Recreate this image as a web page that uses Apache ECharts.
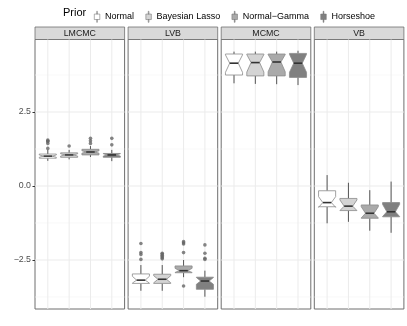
<!DOCTYPE html>
<html><head><meta charset="utf-8">
<script src="https://cdn.jsdelivr.net/npm/echarts@6/dist/echarts.min.js"></script>
<style>html,body{margin:0;padding:0;background:#fff}#c{width:407px;height:326px}</style>
</head><body><div id="c"></div>
<script>
// ---- data ----
const panels = ['LMCMC', 'LVB', 'MCMC', 'VB'];
const priors = ['Normal', 'Bayesian Lasso', 'Normal\u2212Gamma', 'Horseshoe'];
const priorPos = [1, 2, 3, 4];
// per prior: [lowerWhisker, Q1, notchLow, median, notchHigh, Q3, upperWhisker]
const statsLMCMC = [
  [0.85, 0.94, 0.97, 1.01, 1.05, 1.08, 1.22],
  [0.90, 0.97, 1.01, 1.05, 1.09, 1.12, 1.22],
  [0.98, 1.05, 1.11, 1.15, 1.19, 1.24, 1.35],
  [0.84, 0.97, 1.01, 1.05, 1.09, 1.10, 1.22]
];
const statsLVB = [
  [-3.54, -3.29, -3.28, -3.18, -3.05, -2.97, -2.67],
  [-3.54, -3.29, -3.27, -3.15, -3.03, -2.98, -2.67],
  [-3.08, -2.93, -2.92, -2.86, -2.78, -2.70, -2.50],
  [-3.74, -3.49, -3.32, -3.21, -3.09, -3.08, -2.86]
];
const statsMCMC = [
  [3.47, 3.75, 3.84, 4.15, 4.43, 4.46, 4.54],
  [3.45, 3.72, 3.85, 4.17, 4.44, 4.46, 4.54],
  [3.44, 3.72, 3.86, 4.19, 4.44, 4.46, 4.54],
  [3.41, 3.67, 3.84, 4.15, 4.45, 4.48, 4.57]
];
const statsVB = [
  [-1.26, -0.70, -0.72, -0.56, -0.36, -0.16, 0.37],
  [-1.21, -0.83, -0.83, -0.68, -0.47, -0.42, 0.11],
  [-1.51, -1.09, -1.08, -0.92, -0.70, -0.64, -0.14],
  [-1.58, -1.04, -1.03, -0.87, -0.62, -0.56, 0.15]
];
// outliers: [prior position, value]
const outLMCMC = [[1, 1.55], [1, 1.52], [1, 1.50], [1, 1.44], [1, 1.27], [2, 1.35], [3, 1.61], [3, 1.53], [3, 1.44], [4, 1.61], [4, 1.39]];
const outLVB = [[1, -1.94], [1, -2.25], [1, -2.31], [1, -2.48],
  [2, -2.27], [2, -2.30], [2, -2.34], [2, -2.38], [2, -2.42], [2, -2.46],
  [3, -1.88], [3, -1.92], [3, -1.96], [3, -2.25], [3, -3.38],
  [4, -1.99], [4, -2.27], [4, -2.44], [4, -2.48]];
const outMCMC = [];
const outVB = [];
const yMajor = [-2.5, 0, 2.5];
const yMinor = [-3.75, -1.25, 1.25, 3.75];
const yTickLabels = ['\u22122.5', '0.0', '2.5'];

const allStats = [statsLMCMC, statsLVB, statsMCMC, statsVB];
const allOut = [outLMCMC, outLVB, outMCMC, outVB];

// ---- style / layout ----
const fills = ['#ffffff', '#d4d4d4', '#aaaaaa', '#808080'];
const FONT = 'Liberation Sans, Arial, Helvetica, sans-serif';
const left0 = 35, panelW = 89.6, gapW = 3.5, gTop = 39.5, gBottom = 309;
const yMin = -4.155, yMax = 4.95;
const boxW = 0.8;

const grids = [], xAxes = [], yAxes = [], seriesList = [], graphics = [];
panels.forEach((p, i) => {
  const L = left0 + i * (panelW + gapW);
  grids.push({left: L, top: gTop, width: panelW, height: gBottom - gTop, show: true,
    backgroundColor: '#fff', borderColor: '#6e6e6e', borderWidth: 1, z: 0});
  xAxes.push({type: 'value', gridIndex: i, min: 0.4, max: 4.6, show: false});
  const ya = {type: 'value', gridIndex: i, min: yMin, max: yMax,
    splitLine: {show: false}, axisLine: {show: false},
    axisTick: {show: i === 0, length: 2.5, lineStyle: {color: '#333'}, customValues: yMajor},
    axisLabel: {show: i === 0, customValues: yMajor, margin: 4, fontSize: 8.8, color: '#4d4d4d', fontFamily: FONT,
      formatter: v => { const k = yMajor.findIndex(m => Math.abs(m - v) < 1e-9); return k >= 0 ? yTickLabels[k] : ''; }}
  };
  yAxes.push(ya);
  // gridlines series
  const gl = [];
  yMinor.forEach(v => gl.push(['h', v, 0]));
  yMajor.forEach(v => gl.push(['h', v, 1]));
  priorPos.forEach(v => gl.push(['v', v, 1]));
  seriesList.push({type: 'custom', xAxisIndex: i, yAxisIndex: i, silent: true, z: 1,
    data: gl.map((d, j) => [j, d[1]]),
    renderItem: (params, api) => {
      const d = gl[params.dataIndex];
      const cs = params.coordSys;
      let shape;
      if (d[0] === 'h') {
        const y = api.coord([1, d[1]])[1];
        shape = {x1: cs.x, y1: y, x2: cs.x + cs.width, y2: y};
      } else {
        const x = api.coord([d[1], 0])[0];
        shape = {x1: x, y1: cs.y, x2: x, y2: cs.y + cs.height};
      }
      return {type: 'line', shape, style: {stroke: d[2] ? '#ebebeb' : '#f4f4f4', lineWidth: d[2] ? 1 : 0.6}};
    }
  });
  // boxes
  allStats[i].forEach((s, k) => {
    seriesList.push({type: 'custom', name: priors[k], xAxisIndex: i, yAxisIndex: i, z: 3,
      itemStyle: {color: fills[k]},
      encode: {x: 0, y: [1, 2, 3, 4, 5, 6, 7]},
      data: [[priorPos[k]].concat(s)],
      renderItem: (params, api) => {
        const x = api.value(0);
        const v = [1, 2, 3, 4, 5, 6, 7].map(j => api.value(j));
        const c = api.coord([x, v[3]]);
        const hw = api.size([boxW, 0])[0] / 2;
        const Y = v.map(val => api.coord([x, val])[1]);
        const xl = c[0] - hw, xr = c[0] + hw, il = c[0] - hw / 2, ir = c[0] + hw / 2;
        const [wlo, q1, nlo, med, nhi, q3, whi] = Y;
        const poly = [[xl, q3], [xl, nhi], [il, med], [xl, nlo], [xl, q1], [xr, q1], [xr, nlo], [ir, med], [xr, nhi], [xr, q3]];
        return {type: 'group', children: [
          {type: 'line', shape: {x1: c[0], y1: q3, x2: c[0], y2: whi}, style: {stroke: '#555', lineWidth: 1}},
          {type: 'line', shape: {x1: c[0], y1: q1, x2: c[0], y2: wlo}, style: {stroke: '#555', lineWidth: 1}},
          {type: 'polygon', shape: {points: poly}, style: {fill: fills[k], stroke: '#8a8a8a', lineWidth: 0.8}},
          {type: 'line', shape: {x1: il, y1: med, x2: ir, y2: med}, style: {stroke: '#333', lineWidth: 1.6}}
        ]};
      }
    });
  });
  if (allOut[i].length) {
    seriesList.push({type: 'scatter', xAxisIndex: i, yAxisIndex: i, z: 4, silent: true,
      symbolSize: 3.6, itemStyle: {color: '#666', opacity: 0.8}, data: allOut[i]});
  }
  // strip
  graphics.push({type: 'rect', shape: {x: L, y: 27, width: panelW, height: 12.5},
    style: {fill: '#d9d9d9', stroke: '#6e6e6e', lineWidth: 0.8}, silent: true});
  graphics.push({type: 'text', x: L + panelW / 2, y: 33.5,
    style: {text: p, fill: '#1a1a1a', font: '8.8px ' + FONT, align: 'center', verticalAlign: 'middle'}, silent: true});
});
graphics.push({type: 'text', x: 63, y: 13,
  style: {text: 'Prior', fill: '#000', font: '11px ' + FONT, align: 'left', verticalAlign: 'middle'}, silent: true});

const chart = echarts.init(document.getElementById('c'), null, {renderer: 'canvas'});
chart.setOption({
  animation: false,
  backgroundColor: '#fff',
  grid: grids, xAxis: xAxes, yAxis: yAxes, series: seriesList,
  legend: {data: priors, left: 89, top: 6, orient: 'horizontal', itemGap: 11.5, itemWidth: 6, itemHeight: 11,
    icon: 'path://M2.6,0h0.8v3h-0.8z M0,3h6v6h-6z M2.6,9h0.8v3h-0.8z',
    itemStyle: {borderColor: '#777', borderWidth: 0.6},
    textStyle: {fontSize: 9, color: '#000', fontFamily: FONT}, selectedMode: false},
  graphic: graphics
});
</script></body></html>
